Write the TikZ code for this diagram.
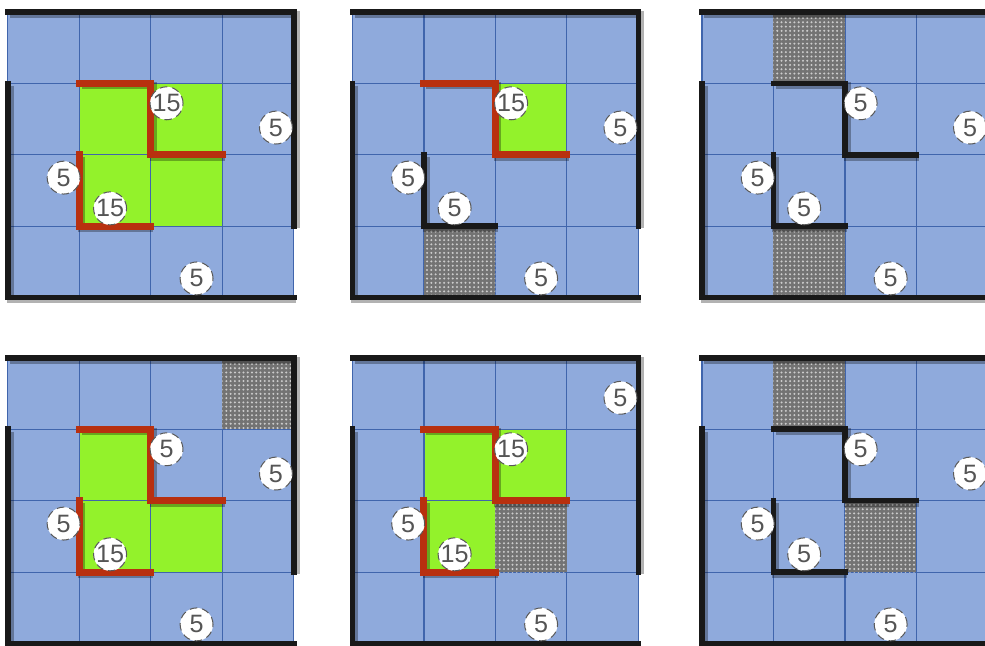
\documentclass[tikz,border=0pt]{standalone}
\usepackage{fontspec}
\setmainfont{Liberation Sans}
\usetikzlibrary{patterns.meta}
\definecolor{Board}{HTML}{8FAADC}
\definecolor{GridBlue}{HTML}{4065AC}
\definecolor{Lime}{HTML}{93F22B}
\definecolor{Brick}{HTML}{B8300F}
\definecolor{Digit}{HTML}{555555}
\tikzset{
  board/.style={fill=Board},
  gridline/.style={draw=GridBlue,line width=0.5pt},
  greencell/.style={fill=Lime},
  blockcell/.style={fill=black!55,postaction={pattern={Dots[distance=1.7pt,radius=0.45pt]},pattern color=white!80!black}},
  wall/.style={draw=black!90,line width=2.2pt,line cap=rect,
    preaction={draw=black,draw opacity=0.3,line width=2.8pt,transform canvas={shift={(0.9pt,-0.9pt)}}}},
  redwall/.style={wall,draw=Brick,line width=2.8pt},
  coin/.style={circle,fill=white,draw=black!65,densely dashed,line width=0.4pt,minimum size=0.46cm,
    inner sep=0pt,text=Digit,font=\fontsize{10}{10}\selectfont}
}

\begin{document}
\begin{tikzpicture}
  \clip (0,0) rectangle (13.78,9.035);
  \fill[white] (0,0) rectangle (13.78,9.035);

  % top left
  \begin{scope}[shift={(0.11,4.87)}]
    \fill[board] (0,0) rectangle (4,4);
    \fill[greencell] (1,1) rectangle (3,3);
    \draw[gridline] (0,0) grid (4,4);
    \draw[wall] (0,3) -- (0,0) -- (4,0);
    \draw[wall] (0,4) -- (4,4) -- (4,1);
    \draw[redwall] (1,3) -- (2,3) -- (2,2) -- (3,2);
    \draw[redwall] (1,2) -- (1,1) -- (2,1);
    \node[coin] (p1a) at (2.22,2.72) {15};
    \node[coin] (p1r) at (3.75,2.38) {5};
    \node[coin] (p1l) at (0.78,1.68) {5};
    \node[coin] (p1b) at (1.43,1.25) {15};
    \node[coin] (p1d) at (2.64,0.27) {5};
  \end{scope}

  % top middle
  \begin{scope}[shift={(4.93,4.87)}]
    \fill[board] (0,0) rectangle (4,4);
    \fill[greencell] (2,2) rectangle (3,3);
    \draw[gridline] (0,0) grid (4,4);
    \fill[blockcell] (1,0) rectangle (2,1);
    \draw[wall] (0,3) -- (0,0) -- (4,0);
    \draw[wall] (0,4) -- (4,4) -- (4,1);
    \draw[redwall] (1,3) -- (2,3) -- (2,2) -- (3,2);
    \draw[wall] (1,2) -- (1,1) -- (2,1);
    \node[coin] (p2a) at (2.22,2.72) {15};
    \node[coin] (p2r) at (3.75,2.38) {5};
    \node[coin] (p2l) at (0.78,1.68) {5};
    \node[coin] (p2b) at (1.43,1.25) {5};
    \node[coin] (p2d) at (2.64,0.27) {5};
  \end{scope}

  % top right
  \begin{scope}[shift={(9.82,4.87)}]
    \fill[board] (0,0) rectangle (4,4);
    \draw[gridline] (0,0) grid (4,4);
    \fill[blockcell] (1,3) rectangle (2,4);
    \fill[blockcell] (1,0) rectangle (2,1);
    \draw[wall] (0,3) -- (0,0) -- (4,0);
    \draw[wall] (0,4) -- (4,4) -- (4,1);
    \draw[wall] (1,3) -- (2,3) -- (2,2) -- (3,2);
    \draw[wall] (1,2) -- (1,1) -- (2,1);
    \node[coin] (p3a) at (2.22,2.72) {5};
    \node[coin] (p3r) at (3.75,2.38) {5};
    \node[coin] (p3l) at (0.78,1.68) {5};
    \node[coin] (p3b) at (1.43,1.25) {5};
    \node[coin] (p3d) at (2.64,0.27) {5};
  \end{scope}

  % bottom left
  \begin{scope}[shift={(0.11,0.03)}]
    \fill[board] (0,0) rectangle (4,4);
    \fill[greencell] (1,2) rectangle (2,3);
    \fill[greencell] (1,1) rectangle (3,2);
    \draw[gridline] (0,0) grid (4,4);
    \fill[blockcell] (3,3) rectangle (4,4);
    \draw[wall] (0,3) -- (0,0) -- (4,0);
    \draw[wall] (0,4) -- (4,4) -- (4,1);
    \draw[redwall] (1,3) -- (2,3) -- (2,2) -- (3,2);
    \draw[redwall] (1,2) -- (1,1) -- (2,1);
    \node[coin] (p4a) at (2.22,2.72) {5};
    \node[coin] (p4r) at (3.75,2.38) {5};
    \node[coin] (p4l) at (0.78,1.68) {5};
    \node[coin] (p4b) at (1.43,1.25) {15};
    \node[coin] (p4d) at (2.64,0.27) {5};
  \end{scope}

  % bottom middle
  \begin{scope}[shift={(4.93,0.03)}]
    \fill[board] (0,0) rectangle (4,4);
    \fill[greencell] (1,1) rectangle (2,3);
    \fill[greencell] (2,2) rectangle (3,3);
    \draw[gridline] (0,0) grid (4,4);
    \fill[blockcell] (2,1) rectangle (3,2);
    \draw[wall] (0,3) -- (0,0) -- (4,0);
    \draw[wall] (0,4) -- (4,4) -- (4,1);
    \draw[redwall] (1,3) -- (2,3) -- (2,2) -- (3,2);
    \draw[redwall] (1,2) -- (1,1) -- (2,1);
    \node[coin] (p5a) at (2.22,2.72) {15};
    \node[coin] (p5r) at (3.75,3.44) {5};
    \node[coin] (p5l) at (0.78,1.68) {5};
    \node[coin] (p5b) at (1.43,1.25) {15};
    \node[coin] (p5d) at (2.64,0.27) {5};
  \end{scope}

  % bottom right
  \begin{scope}[shift={(9.82,0.03)}]
    \fill[board] (0,0) rectangle (4,4);
    \draw[gridline] (0,0) grid (4,4);
    \fill[blockcell] (1,3) rectangle (2,4);
    \fill[blockcell] (2,1) rectangle (3,2);
    \draw[wall] (0,3) -- (0,0) -- (4,0);
    \draw[wall] (0,4) -- (4,4) -- (4,1);
    \draw[wall] (1,3) -- (2,3) -- (2,2) -- (3,2);
    \draw[wall] (1,2) -- (1,1) -- (2,1);
    \node[coin] (p6a) at (2.22,2.72) {5};
    \node[coin] (p6r) at (3.75,2.38) {5};
    \node[coin] (p6l) at (0.78,1.68) {5};
    \node[coin] (p6b) at (1.43,1.25) {5};
    \node[coin] (p6d) at (2.64,0.27) {5};
  \end{scope}
\end{tikzpicture}
\end{document}
